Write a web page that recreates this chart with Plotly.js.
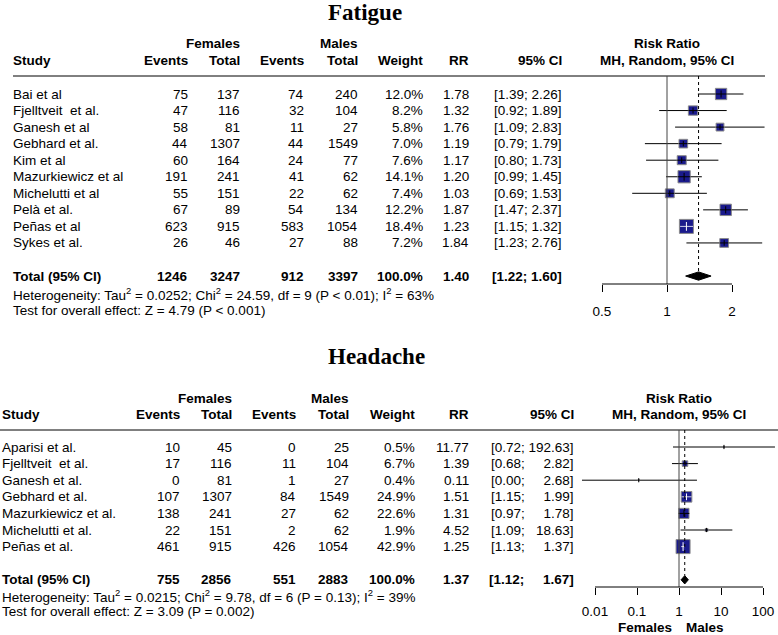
<!DOCTYPE html>
<html><head><meta charset="utf-8">
<script src="https://cdn.plot.ly/plotly-3.0.1.min.js"></script>
<style>html,body{margin:0;padding:0;background:#fff}</style>
</head><body><div id="chart" style="width:778px;height:635px"></div>
<script>
// ---------------- Fatigue data ----------------
const fatStudies = ["Bai et al","Fjelltveit\u00A0 et al.","Ganesh et al","Gebhard et al.","Kim et al","Mazurkiewicz et al","Michelutti et al","Pelà et al.","Peñas et al","Sykes et al."];
const fatFemEvents = [75,47,58,44,60,191,55,67,623,26];
const fatFemTotal  = [137,116,81,1307,164,241,151,89,915,46];
const fatMaleEvents= [74,32,11,44,24,41,22,54,583,27];
const fatMaleTotal = [240,104,27,1549,77,62,62,134,1054,88];
const fatWeight    = [12.0,8.2,5.8,7.0,7.6,14.1,7.4,12.2,18.4,7.2];
const fatRR        = [1.78,1.32,1.76,1.19,1.17,1.20,1.03,1.87,1.23,1.84];
const fatLower     = [1.39,0.92,1.09,0.79,0.80,0.99,0.69,1.47,1.15,1.23];
const fatUpper     = [2.26,1.89,2.83,1.79,1.73,1.45,1.53,2.37,1.32,2.76];
const fatTotals    = [1246,3247,912,3397];
const fatPooled    = [1.40,1.22,1.60];   // RR, lower, upper
const fatHetStats  = ["0.0252","24.59","9","< 0.01","63"]; // Tau2, Chi2, df, P, I2
const fatTestStats = ["4.79","< 0.001"];
const fatTicks     = [0.5,1,2];
const fatTickText  = ["0.5","1","2"];

// ---------------- Headache data ----------------
const headStudies = ["Aparisi et al.","Fjelltveit\u00A0 et al.","Ganesh et al.","Gebhard et al.","Mazurkiewicz et al.","Michelutti et al.","Peñas et al."];
const headFemEvents = [10,17,0,107,138,22,461];
const headFemTotal  = [45,116,81,1307,241,151,915];
const headMaleEvents= [0,11,1,84,27,2,426];
const headMaleTotal = [25,104,27,1549,62,62,1054];
const headWeight    = [0.5,6.7,0.4,24.9,22.6,1.9,42.9];
const headRR        = [11.77,1.39,0.11,1.51,1.31,4.52,1.25];
const headLower     = [0.72,0.68,0.0049,1.15,0.97,1.09,1.13];
const headUpper     = [192.63,2.82,2.68,1.99,1.78,18.63,1.37];
const headTotals    = [755,2856,551,2883];
const headPooled    = [1.37,1.12,1.67];
const headHetStats  = ["0.0215","9.78","6","= 0.13","39"];
const headTestStats = ["3.09","= 0.002"];
const headTicks     = [0.01,0.1,1,10,100];
const headTickText  = ["0.01","0.1","1","10","100"];

// ---------------- layout geometry (pixels) ----------------
const W = 778, H = 635;
const SANS = "Liberation Sans, Arial, sans-serif";
const SERIF = "Liberation Serif, Times New Roman, serif";
const FS = 13.5;
const px = x => x / W;
const py = y => 1 - y / H;

const P = {
  fat: {studyX:13, cols:[188,240,304,358,423,469,562], hdr1:43, hdr2:61, line:[13,765,76],
        axisY:284, row0:94, step:16.55, totalIdx:11, xDom:[590,772], onePx:667, pxPerDec:65/Math.log10(2),
        het:294, test:310, titleY:12, rrCenter:667, maxSq:14, standoff:8},
  head:{studyX:2, cols:[180,232,296,349,415,469,574], hdr1:398, hdr2:415, line:[0,778,430],
        axisY:587, row0:447, step:16.6, totalIdx:8, xDom:[578,778], onePx:679, pxPerDec:42,
        het:596, test:611, titleY:356, rrCenter:679, maxSq:14, standoff:5}
};

const ann = [], shapes = [], traces = [];
function txt(x, y, yref, text, o) {
  ann.push(Object.assign({x:px(x), xref:'paper', y:y, yref:yref, text:text, showarrow:false,
    xanchor:'right', yanchor:'middle', borderpad:0, borderwidth:0,
    font:{family:SANS, size:FS, color:'#000'}}, o||{}));
}
function padNum(s, w){ let p=''; for(let i=s.length;i<w;i++) p+='\u00A0\u00A0'; return p+s; }

function panel(key, xa, ya, title, studies, fe, ft, me, mt, wt, rr, lo, hi, totals, pooled, het, test, ticks, tickText, sexLabels) {
  const g = P[key];
  const yref = ya;
  // title
  txt(328, py(g.titleY), 'paper', '<b>'+title+'</b>', {xanchor:'left', font:{family:SERIF, size:23, color:'#000'}});
  // headers
  txt(g.cols[1], py(g.hdr1), 'paper', '<b>Females</b>');
  txt(g.cols[3], py(g.hdr1), 'paper', '<b>Males</b>');
  txt(g.rrCenter, py(g.hdr1), 'paper', '<b>Risk Ratio</b>', {xanchor:'center'});
  txt(g.studyX, py(g.hdr2), 'paper', '<b>Study</b>', {xanchor:'left'});
  const hdrs = ['Events','Total','Events','Total','Weight','RR','95% CI'];
  hdrs.forEach((h,i)=>txt(g.cols[i], py(g.hdr2), 'paper', '<b>'+h+'</b>'));
  txt(g.rrCenter, py(g.hdr2), 'paper', '<b>MH, Random, 95% CI</b>', {xanchor:'center'});
  shapes.push({type:'line', xref:'paper', yref:'paper', x0:px(g.line[0]), x1:px(g.line[1]), y0:py(g.line[2]), y1:py(g.line[2]), line:{color:'#000', width:1}});

  // CI width for padding
  const allLo = lo.concat([pooled[1]]).map(v=>v.toFixed(2));
  const allHi = hi.concat([pooled[2]]).map(v=>v.toFixed(2));
  const wLo = Math.max(...allLo.map(s=>s.length)), wHi = Math.max(...allHi.map(s=>s.length));
  const ci = (a,b) => '[' + padNum(a,wLo) + ';\u00A0' + padNum(b,wHi) + ']';

  studies.forEach((s,i)=>{
    txt(g.studyX, i, yref, s, {xanchor:'left'});
    const cells = [String(fe[i]), String(ft[i]), String(me[i]), String(mt[i]), wt[i].toFixed(1)+'%', rr[i].toFixed(2), ci(allLo[i], allHi[i])];
    cells.forEach((c,j)=>txt(g.cols[j], i, yref, c));
  });
  const ti = g.totalIdx;
  txt(g.studyX, ti, yref, '<b>Total (95% CI)</b>', {xanchor:'left'});
  const tc = [String(totals[0]), String(totals[1]), String(totals[2]), String(totals[3]), '100.0%', pooled[0].toFixed(2), ci(allLo[lo.length], allHi[hi.length])];
  tc.forEach((c,j)=>txt(g.cols[j], ti, yref, '<b>'+c+'</b>'));
  const esc = s => s.replace('<','&lt;');
  txt(g.studyX, py(g.het), 'paper', 'Heterogeneity: Tau<sup>2</sup> = '+het[0]+'; Chi<sup>2</sup> = '+het[1]+', df = '+het[2]+' (P '+esc(het[3])+'); I<sup>2</sup> = '+het[4]+'%', {xanchor:'left'});
  txt(g.studyX, py(g.test), 'paper', 'Test for overall effect: Z = '+test[0]+' (P '+esc(test[1])+')', {xanchor:'left'});
  if (sexLabels) {
    txt(g.onePx-7, py(627), 'paper', '<b>'+sexLabels[0]+'</b>');
    txt(g.onePx+7, py(627), 'paper', '<b>'+sexLabels[1]+'</b>', {xanchor:'left'});
  }

  // ---- forest marks ----
  const maxW = Math.max(...wt);
  const sq = wt.map(w => g.maxSq*Math.sqrt(w/maxW));
  const idx = studies.map((_,i)=>i);
  // CI lines (under squares)
  const lx=[], ly=[];
  idx.forEach(i=>{ lx.push(lo[i],hi[i],null); ly.push(i,i,null); });
  traces.push({type:'scatter', mode:'lines', x:lx, y:ly, xaxis:xa, yaxis:ya, line:{color:'#000', width:1}, hoverinfo:'skip', showlegend:false});
  // squares
  traces.push({type:'scatter', mode:'markers', x:rr, y:idx, xaxis:xa, yaxis:ya,
    marker:{symbol:'square', size:sq, opacity:1, color:'#1a1a8c', line:{color:'#8a8a8a', width:1}}, hoverinfo:'skip', showlegend:false});
  // overlay cross inside squares
  const bx=[], by=[], wx=[], wy=[], tickCol=[];
  idx.forEach(i=>{
    const half = (sq[i]/2)/g.pxPerDec;
    const c = Math.log10(rr[i]);
    const inside = Math.log10(lo[i]) >= c-half && Math.log10(hi[i]) <= c+half;
    const a = Math.max(lo[i], Math.pow(10,c-half)), b = Math.min(hi[i], Math.pow(10,c+half));
    if (inside) { wx.push(a,b,null); wy.push(i,i,null); } else { bx.push(a,b,null); by.push(i,i,null); }
    tickCol.push(inside ? '#ffffff' : '#000000');
  });
  traces.push({type:'scatter', mode:'lines', x:bx, y:by, xaxis:xa, yaxis:ya, line:{color:'#000', width:1}, hoverinfo:'skip', showlegend:false});
  traces.push({type:'scatter', mode:'lines', x:wx, y:wy, xaxis:xa, yaxis:ya, line:{color:'#fff', width:0.8}, hoverinfo:'skip', showlegend:false});
  traces.push({type:'scatter', mode:'markers', x:rr, y:idx, xaxis:xa, yaxis:ya,
    marker:{symbol:'line-ns', size:sq.map(s=>Math.max(3, s*0.45)), opacity:1, line:{color:tickCol, width:1}}, hoverinfo:'skip', showlegend:false});
  // pooled diamond
  const h = 0.25;
  traces.push({type:'scatter', mode:'lines', x:[pooled[1],pooled[0],pooled[2],pooled[0],pooled[1]],
    y:[ti,ti-h,ti,ti+h,ti], xaxis:xa, yaxis:ya, fill:'toself', fillcolor:'#000', line:{color:'#000', width:1}, hoverinfo:'skip', showlegend:false});

  // reference lines & bracket axis line
  shapes.push({type:'line', xref:xa, yref:ya+' domain', x0:1, x1:1, y0:0, y1:1, line:{color:'#444', width:1}});
  const yTop = (P[key].line[2]-g.row0)/g.step;
  shapes.push({type:'line', xref:xa, yref:ya, x0:pooled[0], x1:pooled[0], y0:yTop, y1:ti-h, line:{color:'#000', width:1, dash:'dot'}});
  shapes.push({type:'line', xref:xa, yref:'paper', x0:ticks[0], x1:ticks[ticks.length-1], y0:py(g.axisY), y1:py(g.axisY), line:{color:'#000', width:1}});

  // axes
  const r0 = (g.xDom[0]-g.onePx)/g.pxPerDec, r1 = (g.xDom[1]-g.onePx)/g.pxPerDec;
  const xAx = {type:'log', domain:[px(g.xDom[0]), px(g.xDom[1])], range:[r0,r1], anchor:ya,
    tickvals:ticks, ticktext:tickText, ticks:'outside', ticklen:7, tickwidth:1, tickcolor:'#000',
    showgrid:false, zeroline:false, showline:false, ticklabelstandoff:g.standoff,
    tickfont:{family:SANS, size:FS, color:'#000'}, fixedrange:true};
  const yAx = {domain:[py(g.axisY), py(g.line[2])], range:[(g.axisY-g.row0)/g.step, yTop], anchor:xa,
    visible:false, showgrid:false, zeroline:false, fixedrange:true};
  return [xAx, yAx];
}

const [xa1, ya1] = panel('fat', 'x', 'y', 'Fatigue', fatStudies, fatFemEvents, fatFemTotal, fatMaleEvents, fatMaleTotal,
  fatWeight, fatRR, fatLower, fatUpper, fatTotals, fatPooled, fatHetStats, fatTestStats, fatTicks, fatTickText, null);
const [xa2, ya2] = panel('head', 'x2', 'y2', 'Headache', headStudies, headFemEvents, headFemTotal, headMaleEvents, headMaleTotal,
  headWeight, headRR, headLower, headUpper, headTotals, headPooled, headHetStats, headTestStats, headTicks, headTickText, ['Females','Males']);

const layout = {width:W, height:H, margin:{l:0,r:0,t:0,b:0}, paper_bgcolor:'#fff', plot_bgcolor:'rgba(0,0,0,0)',
  showlegend:false, xaxis:xa1, yaxis:ya1, xaxis2:xa2, yaxis2:ya2, annotations:ann, shapes:shapes,
  font:{family:SANS, size:FS, color:'#000'}};
Plotly.newPlot('chart', traces, layout, {displayModeBar:false, staticPlot:true});
</script></body></html>
